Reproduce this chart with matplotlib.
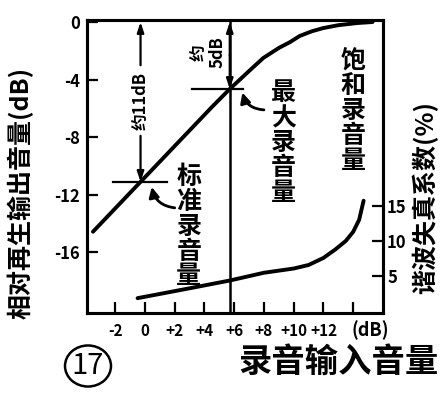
import matplotlib
matplotlib.use("Agg")
import matplotlib.pyplot as plt
from matplotlib.patches import Circle

plt.rcParams['font.family'] = ['Noto Sans CJK SC', 'DejaVu Sans']
plt.rcParams['axes.unicode_minus'] = False

# relative output level (dB) vs recording input level (dB)
out_in = [-3.5, 4.5, 5.7, 7.0, 7.95, 9.0, 9.76, 10.4, 11.2, 11.98, 13.0, 14.27, 15.3]
out_db = [-14.56, -5.9, -4.65, -3.4, -2.5, -1.8, -1.39, -0.97, -0.65, -0.42, -0.22, -0.07, 0.0]

# harmonic distortion (%) vs input level
thd_in = [-0.5, 1.0, 3.0, 5.7, 8.0, 10.0, 11.0, 12.0, 12.8, 13.5, 14.0, 14.4, 14.7]
thd_pct = [1.9, 2.5, 3.3, 4.4, 5.5, 6.1, 6.6, 7.6, 8.8, 10.0, 11.3, 13.0, 15.7]

std_in, std_out = -0.3, -11.1      # 标准录音量
max_in, max_out = 5.7, -4.65       # 最大录音量

x_ticks = [-2, 0, 2, 4, 6, 8, 10, 12, 14]
x_labels = ['-2', '0', '+2', '+4', '+6', '+8', '+10', '+12', '']
y_ticks = [0, -4, -8, -12, -16]
y_labels = ['0', '-4', '-8', '-12', '-16']
r_ticks = [5, 10, 15]
r_labels = ['5', '10', '15']

fig = plt.figure(figsize=(4.45, 3.97), dpi=100)
ax = fig.add_axes([0.1955, 0.2116, 0.665, 0.738])
ax.set_xlim(-3.9, 16.0)
ax.set_ylim(-20.2, 0.14)

for s in ax.spines.values():
    s.set_linewidth(2.2)

ax.plot(out_in, out_db, color='black', lw=2.8, solid_capstyle='round')

ax.set_xticks(x_ticks)
ax.set_xticklabels(x_labels)
ax.set_yticks(y_ticks)
ax.set_yticklabels(y_labels)
ax.tick_params(axis='both', direction='in', length=8, width=1.6, labelsize=12, pad=5)
ax.tick_params(axis='x', pad=7, labelsize=11)
for t in ax.get_xticklabels() + ax.get_yticklabels():
    t.set_fontweight('bold')

ax2 = ax.twinx()
ax2.set_ylim(-0.2, 41.3)
ax2.plot(thd_in, thd_pct, color='black', lw=2.8, solid_capstyle='round')
ax2.set_yticks(r_ticks)
ax2.set_yticklabels(r_labels)
ax2.tick_params(axis='y', direction='in', length=8, width=1.6, labelsize=12, pad=3)
for t in ax2.get_yticklabels():
    t.set_fontweight('bold')
for s in ax2.spines.values():
    s.set_linewidth(2.2)

curved = dict(arrowstyle='-|>,head_length=0.6,head_width=0.3', color='black', lw=2.0,
              shrinkA=0, shrinkB=0, connectionstyle='arc3,rad=-0.35')
straight = dict(arrowstyle='-|>,head_length=0.6,head_width=0.2', color='black', lw=1.6,
                shrinkA=0, shrinkB=0)

# 标准录音量 marks
ax.plot([-2.13, 1.5], [std_out, std_out], color='black', lw=1.6)
ax.annotate('', xy=(std_in, 0), xytext=(std_in, -3.0), arrowprops=straight)
ax.annotate('', xy=(std_in, std_out), xytext=(std_in, -7.9), arrowprops=straight)
ax.text(std_in, -5.5, '约11dB', rotation=90, ha='center', va='center', fontsize=12,
        fontweight='bold')
ax.annotate('', xy=(0.45, -11.45), xytext=(2.0, -12.9), arrowprops=curved)
ax.text(2.95, -14.2, '\n'.join('标准录音量'), ha='center', va='center', fontsize=18,
        fontweight='bold', linespacing=1.05)

# 最大录音量 marks
ax.axvline(max_in, color='black', lw=1.8)
ax.plot([3.18, 6.6], [max_out, max_out], color='black', lw=1.6)
ax.annotate('', xy=(max_in, 0), xytext=(max_in, -2.3), arrowprops=straight)
ax.annotate('', xy=(max_in, max_out), xytext=(max_in, -2.3), arrowprops=straight)
ax.text(4.3, -2.1, '约\n5dB', rotation=90, ha='center', va='center', fontsize=12,
        fontweight='bold', linespacing=1.0)
ax.annotate('', xy=(6.55, -4.9), xytext=(8.0, -6.1), arrowprops=curved)
ax.text(9.3, -8.4, '\n'.join('最大录音量'), ha='center', va='center', fontsize=18,
        fontweight='bold', linespacing=1.05)
ax.text(14.0, -6.2, '\n'.join('饱和录音量'), ha='center', va='center', fontsize=18,
        fontweight='bold', linespacing=1.05)

# axis titles
fig.text(20 / 445, 1 - 193 / 397, '相对再生输出音量(dB)', rotation=90, ha='center',
         va='center', fontsize=18, fontweight='bold')
fig.text(425 / 445, 1 - 197 / 397, '谐波失真系数(%)', rotation=90, ha='center',
         va='center', fontsize=18, fontweight='bold')
fig.text(338 / 445, 1 - 362 / 397, '录音输入音量', ha='center', va='center',
         fontsize=24, fontweight='bold')
fig.text(370 / 445, 1 - 330 / 397, '(dB)', ha='center', va='center', fontsize=13,
         fontweight='bold')

# figure number
fig.patches.append(Circle((88 / 445, 1 - 366 / 397), 23 / 445, transform=fig.transFigure,
                          fill=False, lw=1.8, edgecolor='black'))
fig.text(88 / 445, 1 - 366 / 397, '17', ha='center', va='center', fontsize=21)

fig.savefig('out.png', dpi=100)
